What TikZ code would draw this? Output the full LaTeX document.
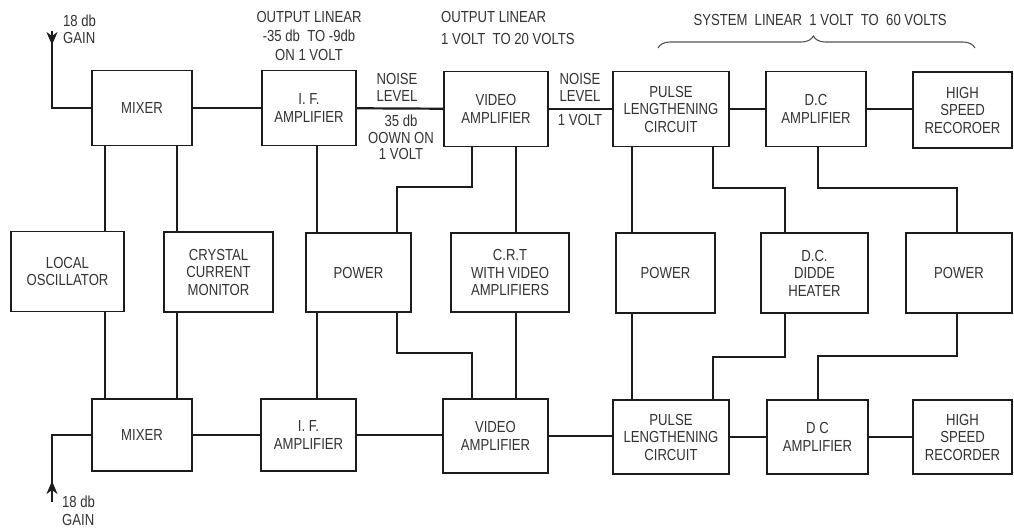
\documentclass[tikz,border=0pt]{standalone}
\usepackage{fontspec}
\setmainfont{Liberation Sans}[FakeStretch=0.82]
\usetikzlibrary{arrows.meta,decorations.pathreplacing}
\definecolor{ink}{HTML}{1C1C1C}
\definecolor{txt}{HTML}{333333}
\begin{document}
\begin{tikzpicture}[x=1pt,y=-1pt,
  box/.style={draw=ink, line width=1.5pt, inner sep=0pt, align=center, text=txt,
    font=\fontsize{16}{17.5}\selectfont},
  wire/.style={draw=ink, line width=2.2pt},
  lbl/.style={text=txt, align=center, inner sep=0pt, font=\fontsize{16}{17.5}\selectfont},
  tip/.style={draw=ink, line width=1.2pt, -{Stealth[length=13pt,width=11pt,inset=4pt]}}]
\useasboundingbox[fill=white] (0,0) rectangle (1014,528);

% top row
\node[box, minimum width=100pt, minimum height=75pt] (mixT) at (142,108) {MIXER};
\node[box, minimum width=94pt, minimum height=75pt] (ifT) at (309,108) {I. F.\\AMPLIFIER};
\node[box, minimum width=104pt, minimum height=75pt] (vidT) at (496,109) {VIDEO\\AMPLIFIER};
\node[box, minimum width=116pt, minimum height=75pt] (plsT) at (671,109) {PULSE\\LENGTHENING\\CIRCUIT};
\node[box, minimum width=100pt, minimum height=75pt] (dcT) at (816,109) {D.C\\AMPLIFIER};
\node[box, minimum width=99pt, minimum height=76pt] (hsT) at (962.5,110) {HIGH\\SPEED\\RECOROER};

% middle row
\node[box, minimum width=113pt, minimum height=80pt] (lo) at (67.5,271.5) {LOCAL\\OSCILLATOR};
\node[box, minimum width=109pt, minimum height=80pt] (ccm) at (218.5,272) {CRYSTAL\\CURRENT\\MONITOR};
\node[box, minimum width=105pt, minimum height=79pt] (pw1) at (358.5,272.5) {POWER};
\node[box, minimum width=118pt, minimum height=79pt] (crt) at (510,272.5) {C.R.T\\WITH VIDEO\\AMPLIFIERS};
\node[box, minimum width=99pt, minimum height=80pt] (pw2) at (665.5,273) {POWER};
\node[box, minimum width=107pt, minimum height=80pt] (dh) at (814.5,273) {D.C.\\DIDDE\\HEATER};
\node[box, minimum width=106pt, minimum height=80pt] (pw3) at (959,273) {POWER};

% bottom row
\node[box, minimum width=100pt, minimum height=72pt] (mixB) at (142,435) {MIXER};
\node[box, minimum width=95pt, minimum height=72pt] (ifB) at (308.5,435) {I. F.\\AMPLIFIER};
\node[box, minimum width=105pt, minimum height=74pt] (vidB) at (495.5,436) {VIDEO\\AMPLIFIER};
\node[box, minimum width=116pt, minimum height=74pt] (plsB) at (671,437) {PULSE\\LENGTHENING\\CIRCUIT};
\node[box, minimum width=101pt, minimum height=74pt] (dcB) at (817.5,437) {D C\\AMPLIFIER};
\node[box, minimum width=99pt, minimum height=74pt] (hsB) at (962.5,437) {HIGH\\SPEED\\RECORDER};

% column helpers
\coordinate (c105) at (105,0);
\coordinate (c177) at (177,0);
\coordinate (c317) at (317,0);
\coordinate (c472) at (472,0);
\coordinate (c397) at (397,0);
\coordinate (c516) at (516,0);
\coordinate (c632) at (632,0);
\coordinate (c713) at (713,0);
\coordinate (c818) at (818,0);
\coordinate (j1) at (397,187);
\coordinate (j2) at (472,353);
\coordinate (j3) at (785,188);
\coordinate (j4) at (957,188);
\coordinate (j5) at (713,357);
\coordinate (j6) at (818,356);

% inputs
\coordinate (inT) at (52,31);
\coordinate (inTtip) at (52,45);
\coordinate (inB) at (52,502);
\coordinate (inBbase) at (52,497);
\coordinate (inBtip) at (52,481);
\draw[wire] (inT) |- (mixT.west);
\draw[tip] (inT) -- (inTtip);
\draw[wire] (inB) |- (mixB.west);
\draw[tip] (inBbase) -- (inBtip);

% horizontal chains
\draw[wire] (mixT) -- (ifT);
\draw[wire] (ifT) -- (vidT);
\draw[wire] (vidT) -- (plsT);
\draw[wire] (plsT) -- (dcT);
\draw[wire] (dcT) -- (hsT.west |- dcT);
\draw[wire] (mixB) -- (ifB);
\draw[wire] (ifB) -- (vidB.west |- ifB);
\draw[wire] (vidB) -- (plsB.west |- vidB);
\draw[wire] (plsB) -- (dcB);
\draw[wire] (dcB) -- (hsB);

% vertical links
\draw[wire] (mixT.south -| c105) -- (lo.north -| c105);
\draw[wire] (lo.south -| c105) -- (mixB.north -| c105);
\draw[wire] (mixT.south -| c177) -- (ccm.north -| c177);
\draw[wire] (ccm.south -| c177) -- (mixB.north -| c177);
\draw[wire] (ifT.south -| c317) -- (pw1.north -| c317);
\draw[wire] (pw1.south -| c317) -- (ifB.north -| c317);
\draw[wire] (vidT.south -| c472) |- (j1) -- (pw1.north -| j1);
\draw[wire] (pw1.south -| c397) |- (j2) -- (vidB.north -| j2);
\draw[wire] (vidT.south -| c516) -- (crt.north -| c516);
\draw[wire] (crt.south -| c516) -- (vidB.north -| c516);
\draw[wire] (plsT.south -| c632) -- (pw2.north -| c632);
\draw[wire] (pw2.south -| c632) -- (plsB.north -| c632);
\draw[wire] (plsT.south -| c713) |- (j3) -- (dh.north -| j3);
\draw[wire] (dcT.south -| c818) |- (j4) -- (pw3.north -| j4);
\draw[wire] (dh.south -| j3) |- (j5) -- (plsB.north -| j5);
\draw[wire] (pw3.south -| j4) |- (j6) -- (dcB.north -| j6);

% labels
\node[lbl, anchor=west, align=left] (gT) at (63,29.5) {18 db\\GAIN};
\node[lbl, anchor=west, align=left] (gB) at (62,511) {18 db\\GAIN};
\node[lbl, font=\fontsize{16}{19}\selectfont] (ol1) at (309,36) {OUTPUT LINEAR\\-35 db \ TO -9db\\ON 1 VOLT};
\node[lbl] (nl1) at (397,87.5) {NOISE\\LEVEL};
\node[lbl, font=\fontsize{16}{16.5}\selectfont] (dn1) at (401,137.5) {35 db\\OOWN ON\\1 VOLT};
\node[lbl, anchor=west, align=left, font=\fontsize{16}{21.5}\selectfont] (ol2) at (441,28) {OUTPUT LINEAR\\1 VOLT \ TO 20 VOLTS};
\node[lbl] (nl2) at (580,87.5) {NOISE\\LEVEL};
\node[lbl] (v1) at (580,120) {1 VOLT};
\node[lbl] (sys) at (820,20) {SYSTEM \ LINEAR \ 1 VOLT \ TO \ 60 VOLTS};
\draw[draw=ink!75, line width=1.1pt, decorate, decoration={brace, amplitude=12pt, aspect=0.49}] (658,48) -- (975,48);
\end{tikzpicture}
\end{document}
